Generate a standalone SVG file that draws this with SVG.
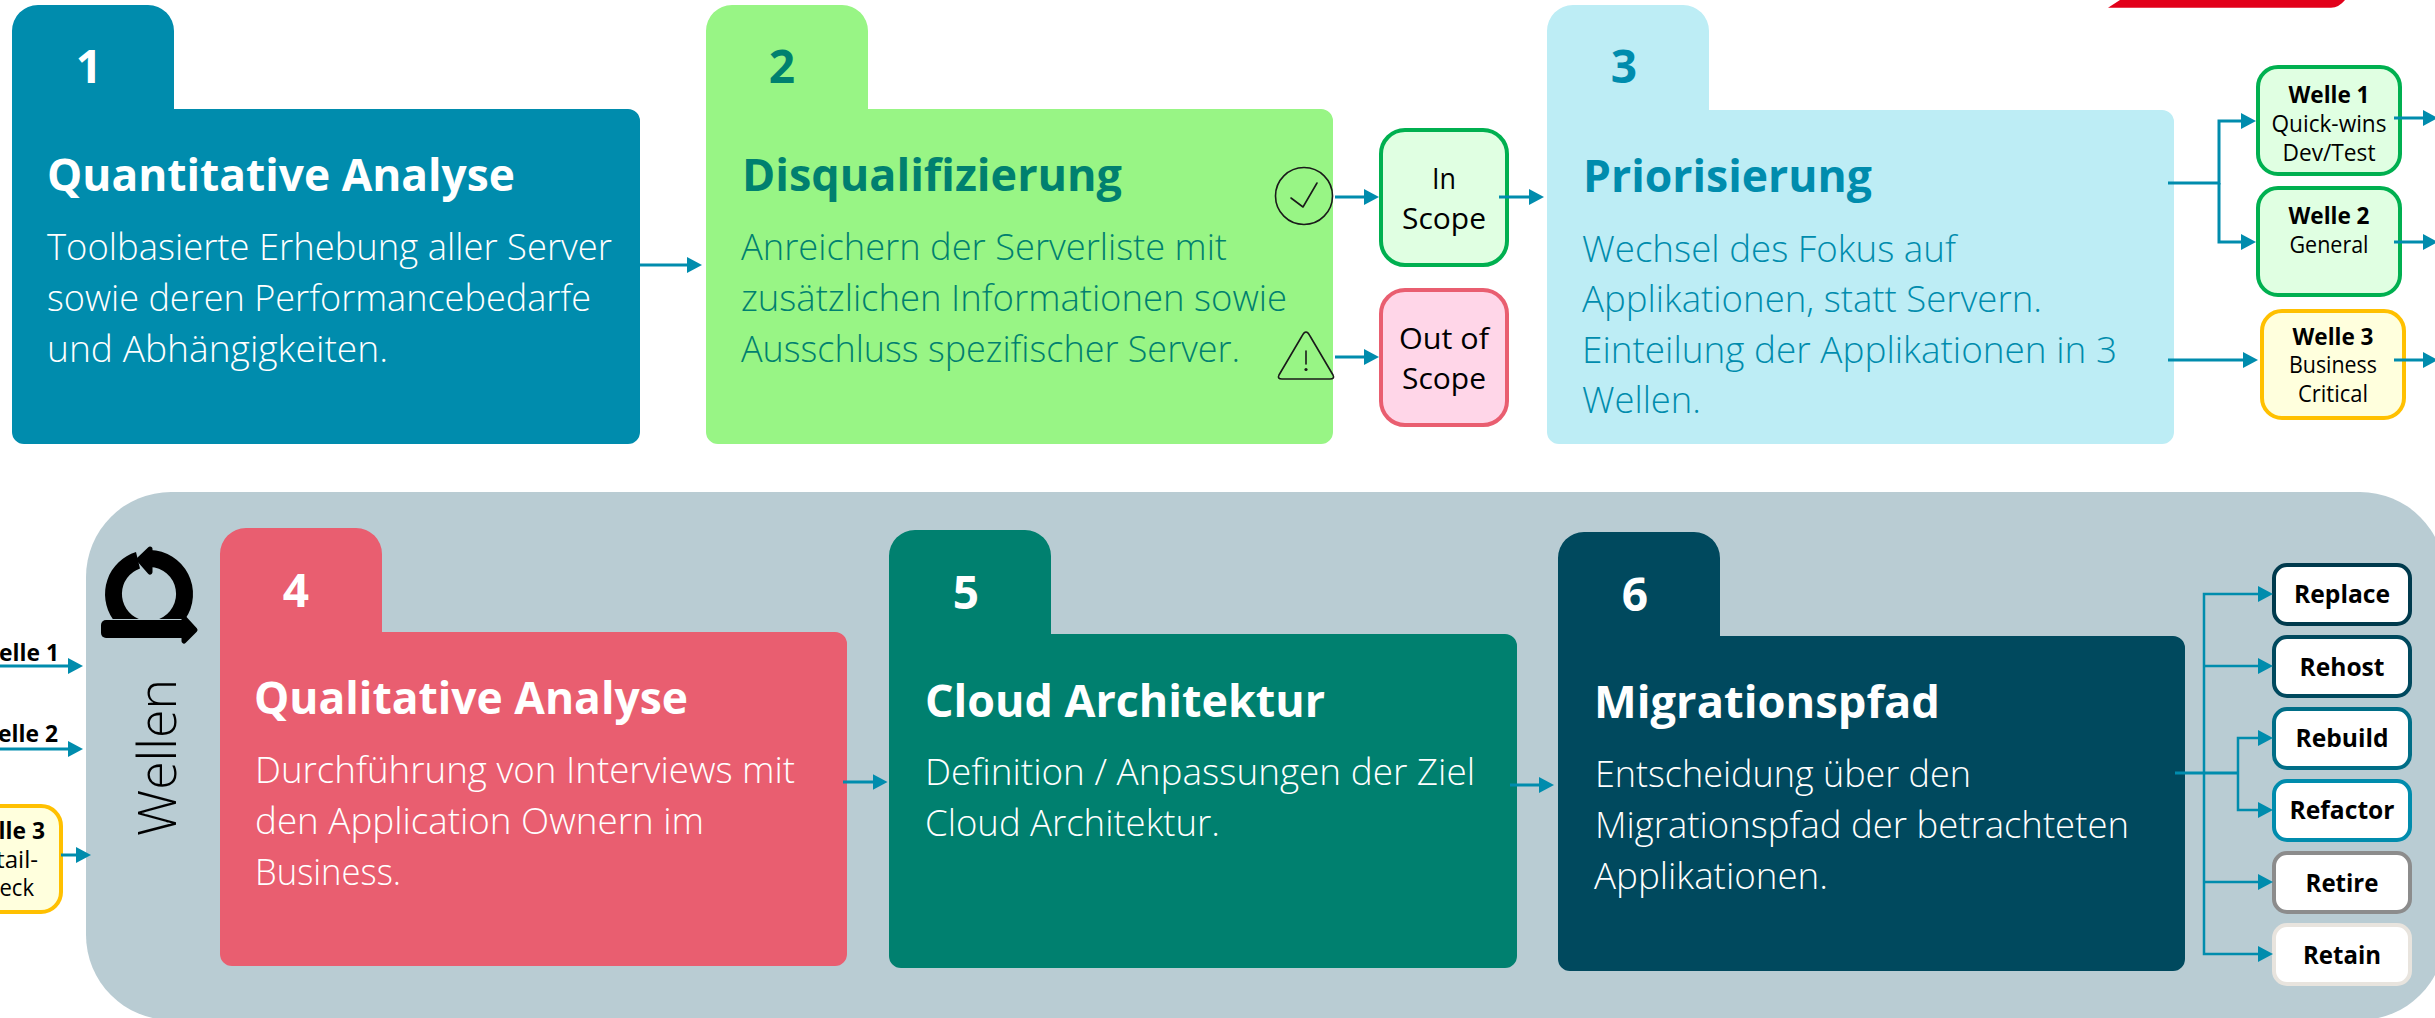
<svg xmlns="http://www.w3.org/2000/svg" width="2435" height="1018" viewBox="0 0 2435 1018">
<defs>
<style>
text{font-family:"Open Sans","Noto Sans","Liberation Sans",sans-serif}
.num{font-size:46px;font-weight:700;text-anchor:middle}
.ttl{font-size:45px;font-weight:700}
.bd{font-size:36px;font-weight:300}
.w{fill:#fff}.g{fill:#00806F}.b{fill:#008CAD}
.sm{font-size:24px;fill:#000;text-anchor:middle}
.smb{font-size:24px;font-weight:700;fill:#000}
.sc{font-size:30px;fill:#000;text-anchor:middle}
.rb{font-size:25px;font-weight:700;fill:#000;text-anchor:middle}
.rbx{fill:#fff;stroke-width:4}
.rc{stroke-width:4}
.con{fill:none;stroke:#008CAD;stroke-width:3;marker-end:url(#ah)}
.con2{fill:none;stroke:#008CAD;stroke-width:3}
.thin{stroke-width:2.500}
.ic{fill:none;stroke:#1a1a1a;stroke-width:1.600;stroke-linecap:round;stroke-linejoin:round}
</style>
<marker id="ah" markerUnits="userSpaceOnUse" viewBox="0 0 15 16" refX="10" refY="8" markerWidth="15" markerHeight="16" orient="auto"><path d="M0 0L15 8L0 16Z" fill="#008CAD"/></marker>
</defs>
<rect width="2435" height="1018" fill="#fff"/>
<path id="corner-mark" d="M2120 0H2345Q2339 7.500 2331 7.700H2108Z" fill="#E2001A"/>
<rect id="wellen-panel" x="86" y="492" width="2359" height="528" rx="85" fill="#B9CCD3"/>

<g id="node-1">
<path d="M12 31a26 26 0 0 1 26-26H148a26 26 0 0 1 26 26V109H628a12 12 0 0 1 12 12V432a12 12 0 0 1-12 12H24a12 12 0 0 1-12-12Z" fill="#008CAD"/>
<text class="num w" x="89" y="83">1</text>
<text class="ttl w" x="47" y="191" textLength="468" lengthAdjust="spacingAndGlyphs">Quantitative Analyse</text>
<text class="bd w" x="47" y="260" textLength="565" lengthAdjust="spacingAndGlyphs">Toolbasierte Erhebung aller Server</text>
<text class="bd w" x="47" y="311" textLength="544" lengthAdjust="spacingAndGlyphs">sowie deren Performancebedarfe</text>
<text class="bd w" x="47" y="362" textLength="341" lengthAdjust="spacingAndGlyphs">und Abhängigkeiten.</text>
</g>

<g id="node-2">
<path d="M706 31a26 26 0 0 1 26-26H842a26 26 0 0 1 26 26V109H1321a12 12 0 0 1 12 12V432a12 12 0 0 1-12 12H718a12 12 0 0 1-12-12Z" fill="#98F585"/>
<text class="num g" x="782" y="83">2</text>
<text class="ttl g" x="742" y="191" textLength="380" lengthAdjust="spacingAndGlyphs">Disqualifizierung</text>
<text class="bd g" x="741" y="260" textLength="486" lengthAdjust="spacingAndGlyphs">Anreichern der Serverliste mit</text>
<text class="bd g" x="741" y="311" textLength="546" lengthAdjust="spacingAndGlyphs">zusätzlichen Informationen sowie</text>
<text class="bd g" x="741" y="362" textLength="499" lengthAdjust="spacingAndGlyphs">Ausschluss spezifischer Server.</text>
<circle class="ic" cx="1304" cy="196" r="28.500"/>
<path class="ic" d="M1291 198L1303 207L1317 183"/>
<path class="ic" d="M1306 332Q1308 332 1310 336L1333 375Q1335 379 1330 379H1282Q1277 379 1279 375L1302 336Q1304 332 1306 332Z"/>
<path class="ic" d="M1306 351V364" stroke-width="2.500"/>
<circle cx="1306" cy="369.500" r="1.600" fill="#1a1a1a"/>
</g>

<g id="node-in-scope">
<rect class="rc" x="1381" y="130" width="126" height="135" rx="24" fill="#E0FFE2" stroke="#00B050"/>
<text class="sc" x="1444" y="189" textLength="24" lengthAdjust="spacingAndGlyphs">In</text>
<text class="sc" x="1444" y="229" textLength="84" lengthAdjust="spacingAndGlyphs">Scope</text>
</g>
<g id="node-out-of-scope">
<rect class="rc" x="1381" y="290" width="126" height="135" rx="24" fill="#FFD6E8" stroke="#E95E70"/>
<text class="sc" x="1444" y="349" textLength="90" lengthAdjust="spacingAndGlyphs">Out of</text>
<text class="sc" x="1444" y="389" textLength="84" lengthAdjust="spacingAndGlyphs">Scope</text>
</g>

<g id="node-3">
<path d="M1547 31a26 26 0 0 1 26-26H1683a26 26 0 0 1 26 26V110H2162a12 12 0 0 1 12 12V432a12 12 0 0 1-12 12H1559a12 12 0 0 1-12-12Z" fill="#BDEDF5"/>
<text class="num b" x="1624" y="83">3</text>
<text class="ttl b" x="1583" y="192" textLength="289" lengthAdjust="spacingAndGlyphs">Priorisierung</text>
<text class="bd b" x="1582" y="262" textLength="374" lengthAdjust="spacingAndGlyphs">Wechsel des Fokus auf</text>
<text class="bd b" x="1582" y="312" textLength="460" lengthAdjust="spacingAndGlyphs">Applikationen, statt Servern.</text>
<text class="bd b" x="1582" y="363" textLength="535" lengthAdjust="spacingAndGlyphs">Einteilung der Applikationen in 3</text>
<text class="bd b" x="1582" y="413" textLength="119" lengthAdjust="spacingAndGlyphs">Wellen.</text>
</g>

<g id="node-welle-1">
<rect class="rc" x="2258" y="67" width="142" height="107" rx="20" fill="#E0FFE2" stroke="#00B050"/>
<text class="smb" text-anchor="middle" x="2329" y="103" textLength="81" lengthAdjust="spacingAndGlyphs">Welle 1</text>
<text class="sm" x="2329" y="132" textLength="115" lengthAdjust="spacingAndGlyphs">Quick-wins</text>
<text class="sm" x="2329" y="161" textLength="93" lengthAdjust="spacingAndGlyphs">Dev/Test</text>
</g>
<g id="node-welle-2">
<rect class="rc" x="2258" y="188" width="142" height="107" rx="20" fill="#E0FFE2" stroke="#00B050"/>
<text class="smb" text-anchor="middle" x="2329" y="224" textLength="81" lengthAdjust="spacingAndGlyphs">Welle 2</text>
<text class="sm" x="2329" y="253" textLength="79" lengthAdjust="spacingAndGlyphs">General</text>
</g>
<g id="node-welle-3">
<rect class="rc" x="2262" y="311" width="142" height="107" rx="20" fill="#FFFFDD" stroke="#FFC000"/>
<text class="smb" text-anchor="middle" x="2333" y="345" textLength="81" lengthAdjust="spacingAndGlyphs">Welle 3</text>
<text class="sm" x="2333" y="373" textLength="88" lengthAdjust="spacingAndGlyphs">Business</text>
<text class="sm" x="2333" y="402" textLength="70" lengthAdjust="spacingAndGlyphs">Critical</text>
</g>

<g id="node-welle-left-1"><text class="smb" text-anchor="end" x="59" y="661" textLength="82" lengthAdjust="spacingAndGlyphs">Welle 1</text></g>
<g id="node-welle-left-2"><text class="smb" text-anchor="end" x="58" y="742" textLength="82" lengthAdjust="spacingAndGlyphs">Welle 2</text></g>
<g id="node-welle-left-3">
<rect class="rc" x="-80" y="806" width="141" height="106" rx="20" fill="#FFFFDD" stroke="#FFC000"/>
<text class="smb" text-anchor="end" x="45" y="839" textLength="82" lengthAdjust="spacingAndGlyphs">Welle 3</text>
<text class="sm" style="text-anchor:end" x="38" y="868" textLength="73" lengthAdjust="spacingAndGlyphs">Detail-</text>
<text class="sm" style="text-anchor:end" x="34" y="896" textLength="62" lengthAdjust="spacingAndGlyphs">Check</text>
</g>

<g id="node-wellen-label">
<g fill="#000">
<path d="M112.800 619A44 44 0 0 1 136 552L140 568.500A27 27 0 0 0 138.800 619Z"/>
<path d="M150 550A44 44 0 0 1 185.200 619H159.200A27 27 0 0 0 150 567Z"/>
<path d="M150 549L139 559.500L150 572Z" stroke="#000" stroke-width="5" stroke-linejoin="round"/>
<rect x="101" y="620" width="86" height="18" rx="5"/>
<path d="M184 618L195 630L184 641Z" stroke="#000" stroke-width="5" stroke-linejoin="round"/>
</g>
<text transform="translate(176 836) rotate(-90)" font-size="54" font-weight="300" fill="#000" textLength="157" lengthAdjust="spacingAndGlyphs">Wellen</text>
</g>

<g id="node-4">
<path d="M220 554a26 26 0 0 1 26-26H356a26 26 0 0 1 26 26V632H835a12 12 0 0 1 12 12V954a12 12 0 0 1-12 12H232a12 12 0 0 1-12-12Z" fill="#E95E70"/>
<text class="num w" x="296" y="607">4</text>
<text class="ttl w" x="254" y="714" textLength="434" lengthAdjust="spacingAndGlyphs">Qualitative Analyse</text>
<text class="bd w" x="255" y="783" textLength="540" lengthAdjust="spacingAndGlyphs">Durchführung von Interviews mit</text>
<text class="bd w" x="255" y="834" textLength="449" lengthAdjust="spacingAndGlyphs">den Application Ownern im</text>
<text class="bd w" x="255" y="885" textLength="146" lengthAdjust="spacingAndGlyphs">Business.</text>
</g>
<g id="node-5">
<path d="M889 556a26 26 0 0 1 26-26H1025a26 26 0 0 1 26 26V634H1505a12 12 0 0 1 12 12V956a12 12 0 0 1-12 12H901a12 12 0 0 1-12-12Z" fill="#00806F"/>
<text class="num w" x="966" y="609">5</text>
<text class="ttl w" x="925" y="717" textLength="400" lengthAdjust="spacingAndGlyphs">Cloud Architektur</text>
<text class="bd w" x="925" y="785" textLength="550" lengthAdjust="spacingAndGlyphs">Definition / Anpassungen der Ziel</text>
<text class="bd w" x="925" y="836" textLength="295" lengthAdjust="spacingAndGlyphs">Cloud Architektur.</text>
</g>
<g id="node-6">
<path d="M1558 558a26 26 0 0 1 26-26H1694a26 26 0 0 1 26 26V636H2173a12 12 0 0 1 12 12V959a12 12 0 0 1-12 12H1570a12 12 0 0 1-12-12Z" fill="#00495E"/>
<text class="num w" x="1635" y="611">6</text>
<text class="ttl w" x="1594" y="718" textLength="346" lengthAdjust="spacingAndGlyphs">Migrationspfad</text>
<text class="bd w" x="1595" y="787" textLength="376" lengthAdjust="spacingAndGlyphs">Entscheidung über den</text>
<text class="bd w" x="1595" y="838" textLength="534" lengthAdjust="spacingAndGlyphs">Migrationspfad der betrachteten</text>
<text class="bd w" x="1594" y="889" textLength="234" lengthAdjust="spacingAndGlyphs">Applikationen.</text>
</g>

<g id="node-replace"><rect class="rbx" x="2274" y="565" width="136" height="59" rx="13" stroke="#003A4D"/><text class="rb" x="2342" y="603" textLength="96" lengthAdjust="spacingAndGlyphs">Replace</text></g>
<g id="node-rehost"><rect class="rbx" x="2274" y="637" width="136" height="59" rx="13" stroke="#00495E"/><text class="rb" x="2342" y="676" textLength="85" lengthAdjust="spacingAndGlyphs">Rehost</text></g>
<g id="node-rebuild"><rect class="rbx" x="2274" y="709" width="136" height="59" rx="13" stroke="#006E87"/><text class="rb" x="2342" y="747" textLength="93" lengthAdjust="spacingAndGlyphs">Rebuild</text></g>
<g id="node-refactor"><rect class="rbx" x="2274" y="781" width="136" height="59" rx="13" stroke="#008CAD"/><text class="rb" x="2342" y="819" textLength="105" lengthAdjust="spacingAndGlyphs">Refactor</text></g>
<g id="node-retire"><rect class="rbx" x="2274" y="853" width="136" height="59" rx="13" stroke="#8C8C8C"/><text class="rb" x="2342" y="892" textLength="73" lengthAdjust="spacingAndGlyphs">Retire</text></g>
<g id="node-retain"><rect class="rbx" x="2274" y="925" width="136" height="59" rx="13" stroke="#E8E4DE"/><text class="rb" x="2342" y="964" textLength="78" lengthAdjust="spacingAndGlyphs">Retain</text></g>

<g id="connectors">
<path class="con" d="M639 265H697"/>
<path class="con" d="M1335 197H1374"/>
<path class="con" d="M1335 357H1374"/>
<path class="con" d="M1499 197H1539"/>
<path class="con" d="M2168 183H2219V121H2251"/>
<path class="con" d="M2219 183V242H2251"/>
<path class="con" d="M2168 360H2253"/>
<path class="con" d="M2394 118H2433"/>
<path class="con" d="M2394 242H2433"/>
<path class="con" d="M2394 360H2433"/>
<path class="con" d="M0 666H78"/>
<path class="con" d="M0 749H78"/>
<path class="con" d="M61 855H86"/>
<path class="con" d="M843 782H882.500"/>
<path class="con" d="M1510 785H1549"/>
<path class="con2" d="M2175 773H2238"/>
<path class="con thin" d="M2204 773V594H2268"/>
<path class="con thin" d="M2204 666H2268"/>
<path class="con thin" d="M2204 773V954H2268"/>
<path class="con thin" d="M2204 882H2268"/>
<path class="con thin" d="M2238 773V738H2268"/>
<path class="con thin" d="M2238 773V810H2268"/>
</g>
</svg>
